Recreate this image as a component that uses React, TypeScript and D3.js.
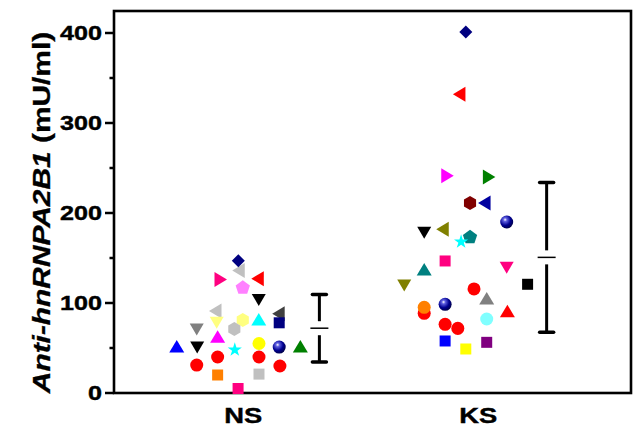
import React from 'react';
import * as d3 from 'd3';

const W = 635;
const H = 431;

// groups
const categories = ['NS', 'KS'];
const catPos = [1, 2];

// NS group (value, x jitter around category, marker, colour)
const nsValues = [136, 147, 126, 127, 117, 104, 91, 88, 78, 78.5, 81, 81, 71, 71, 62, 51, 51, 48, 55, 51, 51, 31, 40, 40, 30, 20, 21, 5];
const nsOffsets = [-0.017, -0.021, -0.099, 0.064, -0.002, 0.066, -0.116, 0.153, 0.153, -0.113, -0.002, 0.066, -0.198, -0.038, -0.109, -0.283, -0.196, -0.036, 0.067, 0.153, 0.243, -0.198, -0.109, 0.067, 0.156, -0.109, 0.067, -0.022];
const nsShapes = ['left', 'diamond', 'right', 'left', 'pentagon', 'down', 'left', 'left', 'square', 'down', 'hexagon', 'up', 'down', 'hexagon', 'up', 'up', 'down', 'star', 'circle', 'sphere', 'up', 'circle', 'circle', 'circle', 'circle', 'square', 'square', 'square'];
const nsColors = ['#C0C0C0', '#000080', '#FF0080', '#FF0000', '#FF80FF', '#000000', '#C0C0C0', '#404040', '#000080', '#FFFF80', '#FFFF80', '#00FFFF', '#808080', '#C0C0C0', '#FF00FF', '#0000FF', '#000000', '#00FFFF', '#FFFF00', '#000080', '#008000', '#FF0000', '#FF0000', '#FF0000', '#FF0000', '#FF8000', '#C0C0C0', '#FF0080'];

// KS group
const ksValues = [401, 332, 241.5, 240, 211, 211, 190, 178.5, 182, 173, 168, 146.7, 136.7, 139.7, 120.8, 120, 115.6, 104.4, 88.5, 95.2, 98.5, 90.4, 82.2, 76.3, 71.8, 57.8, 48.9, 56.3];
const ksOffsets = [-0.053, -0.078, -0.134, 0.043, -0.035, 0.029, 0.121, -0.23, -0.149, -0.035, -0.073, -0.141, -0.23, 0.121, 0.21, -0.315, -0.018, 0.036, -0.23, -0.23, -0.141, 0.124, 0.036, -0.141, -0.087, -0.141, -0.053, 0.036];
const ksShapes = ['diamond', 'left', 'right', 'right', 'hexagon', 'left', 'sphere', 'down', 'left', 'pentagon', 'star', 'square', 'up', 'down', 'square', 'down', 'circle', 'up', 'circle', 'circle', 'sphere', 'up', 'circle', 'circle', 'circle', 'square', 'square', 'square'];
const ksColors = ['#000080', '#FF0000', '#FF00FF', '#008000', '#800000', '#0000A0', '#000080', '#000000', '#808000', '#008080', '#00FFFF', '#FF0080', '#008080', '#FF0080', '#000000', '#808000', '#FF0000', '#808080', '#FF0000', '#FF8000', '#000080', '#FF0000', '#80FFFF', '#FF0000', '#FF0000', '#0000FF', '#FFFF00', '#800080'];

// mean ± SD bars
const means = [72, 150.7];
const sds = [37.5, 83.3];
const barOffsets = [0.324, 0.291];

const yTicks = [0, 100, 200, 300, 400];
const yMinor = [50, 150, 250, 350];

const polygon = (n: number, r: number) =>
  'M' + d3.range(n).map(i => {
    const a = -Math.PI / 2 + (i * 2 * Math.PI) / n;
    return [r * Math.cos(a), r * Math.sin(a)].join(',');
  }).join('L') + 'Z';

const markerPath = (shape: string) => {
  switch (shape) {
    case 'circle':
    case 'sphere': return d3.symbol(d3.symbolCircle, 133)();
    case 'star': return d3.symbol(d3.symbolStar, 62)();
    case 'square': return 'M-5.5,-5.5h11v11h-11Z';
    case 'up': return 'M0,-7L7.5,5.5L-7.5,5.5Z';
    case 'down': return 'M0,6.5L7,-5.5L-7,-5.5Z';
    case 'left': return 'M-7,0L5.5,-7.5L5.5,7.5Z';
    case 'right': return 'M7,0L-5.5,-7.5L-5.5,7.5Z';
    case 'diamond': return 'M0,-6.5L6.5,0L0,6.5L-6.5,0Z';
    case 'pentagon': return polygon(5, 7.5);
    case 'hexagon': return polygon(6, 7);
  }
  return '';
};

const App = () => {
  const x = d3.scaleLinear().domain([0.45, 2.65]).range([114, 631]);
  const y = d3.scaleLinear().domain([0, 400]).range([393, 33]);

  const groups = [
    { values: nsValues, offsets: nsOffsets, shapes: nsShapes, colors: nsColors },
    { values: ksValues, offsets: ksOffsets, shapes: ksShapes, colors: ksColors },
  ];

  const points = groups.map((g, gi) =>
    g.values.map((v, i) => (
      <path
        key={`${gi}-${i}`}
        d={markerPath(g.shapes[i])}
        transform={`translate(${x(catPos[gi] + g.offsets[i])},${y(v)})`}
        fill={g.shapes[i] === 'sphere' ? 'url(#sphere)' : g.colors[i]}
      />
    ))
  );

  const bars = categories.map((c, i) => {
    const bx = x(catPos[i] + barOffsets[i]);
    const yTop = y(means[i] + sds[i]);
    const yBot = y(means[i] - sds[i]);
    const yMid = y(means[i]);
    return (
      <g key={c} stroke="#000" fill="none">
        <line x1={bx} x2={bx} y1={yTop} y2={yMid - 7} strokeWidth={3} />
        <line x1={bx} x2={bx} y1={yMid + 7} y2={yBot} strokeWidth={3} />
        <line x1={bx - 7} x2={bx + 7} y1={yTop} y2={yTop} strokeWidth={3.5} strokeLinecap="round" />
        <line x1={bx - 7} x2={bx + 7} y1={yBot} y2={yBot} strokeWidth={3.5} strokeLinecap="round" />
        <line x1={bx - 9} x2={bx + 9} y1={yMid} y2={yMid} strokeWidth={1.5} />
      </g>
    );
  });

  return (
    <svg width={W} height={H} style={{ position: 'absolute', left: 0, top: 0 }}
      fontFamily="'Liberation Sans', Arial, sans-serif" fontWeight="bold">
      <defs>
        <radialGradient id="sphere" cx="0.38" cy="0.35" r="0.7" fx="0.38" fy="0.32">
          <stop offset="0" stopColor="#ffffff" />
          <stop offset="0.2" stopColor="#6060e0" />
          <stop offset="0.6" stopColor="#000090" />
          <stop offset="1" stopColor="#000040" />
        </radialGradient>
      </defs>

      {/* frame */}
      <rect x={114} y={11} width={517} height={382} fill="none" stroke="#000" strokeWidth={2.6} />

      {/* y ticks */}
      {yTicks.map(t => (
        <g key={t}>
          <line x1={105} x2={114} y1={y(t)} y2={y(t)} stroke="#000" strokeWidth={2.5} />
          <text x={102} y={y(t) + 7} textAnchor="end" fontSize={19.5} stroke="#000" strokeWidth={0.4}
            textLength={String(t).length * 14} lengthAdjust="spacingAndGlyphs">{t}</text>
        </g>
      ))}
      {yMinor.map(t => (
        <line key={t} x1={109.5} x2={114} y1={y(t)} y2={y(t)} stroke="#000" strokeWidth={2.5} />
      ))}

      {/* x labels */}
      {categories.map((c, i) => (
        <text key={c} x={x(catPos[i])} y={422.7} textAnchor="middle" fontSize={22.5} stroke="#000" strokeWidth={0.4}
          textLength={38} lengthAdjust="spacingAndGlyphs">{c}</text>
      ))}

      {/* y title */}
      <text transform="translate(50,212.5) rotate(-90) scale(1.3,1)" textAnchor="middle" fontSize={23}
        stroke="#000" strokeWidth={0.3}>
        <tspan fontStyle="italic">Anti-hnRNPA2B1</tspan>
        <tspan> (mU/ml)</tspan>
      </text>

      {points}
      {bars}
    </svg>
  );
};

export default App;
